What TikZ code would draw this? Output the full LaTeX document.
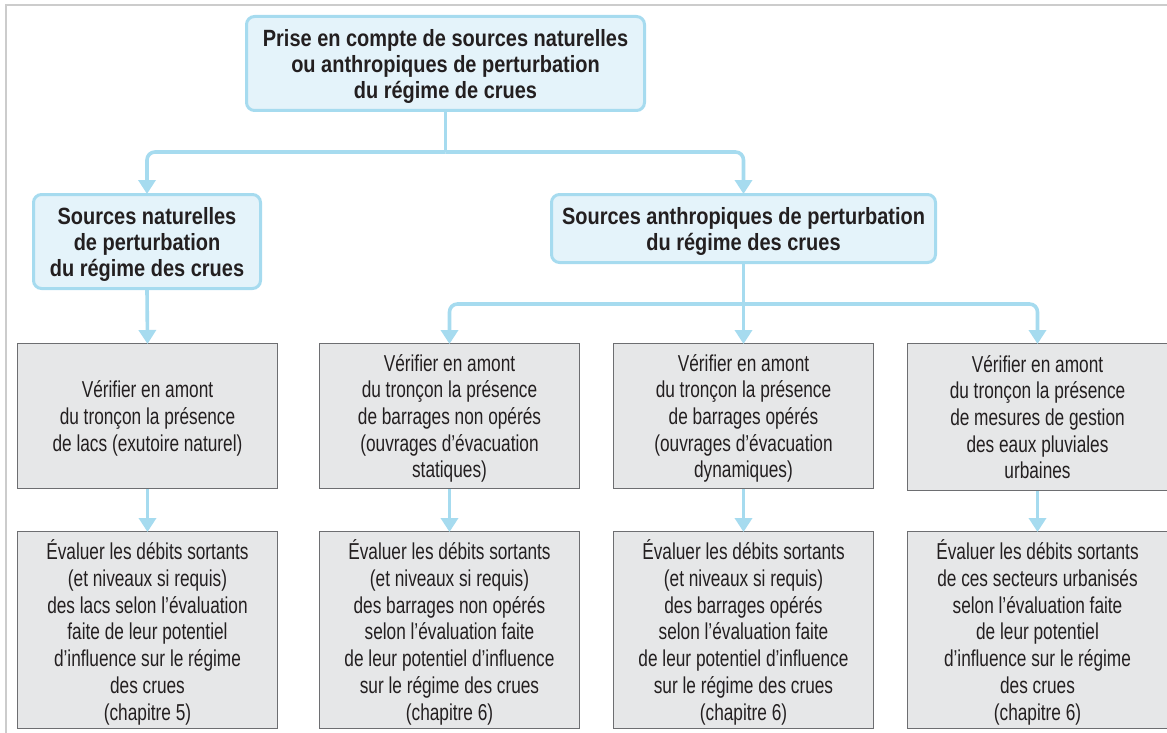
\documentclass[tikz,border=0pt]{standalone}
\usepackage{fontspec}
\setmainfont{Liberation Sans}[FakeStretch=0.75]
\newfontfamily\bfam{Liberation Sans}[FakeStretch=0.85]
\usetikzlibrary{arrows.meta}
\definecolor{conncol}{HTML}{A6DBEF}
\definecolor{bluefill}{HTML}{E4F3FA}
\definecolor{greyfill}{HTML}{E6E7E8}
\definecolor{greyline}{HTML}{6D6E71}
\definecolor{framecol}{HTML}{CCCCCC}
\definecolor{txt}{HTML}{231F20}
\tikzset{
  bluebox/.style={draw=conncol, fill=bluefill, line width=3pt, rounded corners=8pt,
    align=center, inner sep=0pt, text=txt, text depth=0pt,
    font=\bfam\bfseries\fontsize{23.5}{26}\selectfont},
  greybox/.style={draw=greyline, fill=greyfill, line width=1pt,
    minimum width=260pt, align=center, inner sep=0pt, text=txt, text depth=0pt,
    font=\fontsize{23}{26.7}\selectfont},
  conn/.style={draw=conncol, line width=3.6pt, rounded corners=8pt},
  arr/.style={conn, -{Triangle[width=17pt,length=14pt]}, shorten >=-1pt},
}
\begin{document}
\begin{tikzpicture}[x=1pt,y=-1pt]
\useasboundingbox (0,0) rectangle (1167,733);
\draw[framecol, line width=1.5pt] (6,733) -- (6,5) -- (1167,5);

\node[bluebox, minimum width=398pt, minimum height=94pt] (top) at (445.5,63.5)
  {Prise en compte de sources naturelles\\ou anthropiques de perturbation\\du régime de crues};
\node[bluebox, minimum width=227pt, minimum height=94pt] (nat) at (147,241.5)
  {Sources naturelles\\de perturbation\\du régime des crues};
\node[bluebox, minimum width=384pt, minimum height=68pt] (anth) at (743.5,228.5)
  {Sources anthropiques de perturbation\\du régime des crues};

\node[greybox, minimum height=145pt] (a1) at (147.5,416)
  {Vérifier en amont\\du tronçon la présence\\de lacs (exutoire naturel)};
\node[greybox, minimum height=145pt] (b1) at (449.5,416)
  {Vérifier en amont\\du tronçon la présence\\de barrages non opérés\\(ouvrages d’évacuation\\statiques)};
\node[greybox, minimum height=145pt] (c1) at (743.5,416)
  {Vérifier en amont\\du tronçon la présence\\de barrages opérés\\(ouvrages d’évacuation\\dynamiques)};
\node[greybox, minimum height=147pt] (d1) at (1037.5,417)
  {Vérifier en amont\\du tronçon la présence\\de mesures de gestion\\des eaux pluviales\\urbaines};

\node[greybox, minimum height=197pt] (a2) at (147.5,630)
  {Évaluer les débits sortants\\(et niveaux si requis)\\des lacs selon l’évaluation\\faite de leur potentiel\\d’influence sur le régime\\des crues\\(chapitre 5)};
\node[greybox, minimum height=197pt] (b2) at (449.5,630)
  {Évaluer les débits sortants\\(et niveaux si requis)\\des barrages non opérés\\selon l’évaluation faite\\de leur potentiel d’influence\\sur le régime des crues\\(chapitre 6)};
\node[greybox, minimum height=197pt] (c2) at (743.5,630)
  {Évaluer les débits sortants\\(et niveaux si requis)\\des barrages opérés\\selon l’évaluation faite\\de leur potentiel d’influence\\sur le régime des crues\\(chapitre 6)};
\node[greybox, minimum height=197pt] (d2) at (1037.5,630)
  {Évaluer les débits sortants\\de ces secteurs urbanisés\\selon l’évaluation faite\\de leur potentiel\\d’influence sur le régime\\des crues\\(chapitre 6)};

\coordinate (j1) at (445.5,152);
\coordinate (j2) at (743.5,304);

\draw[conn] (top.south) -- (top.south |- j1);
\draw[arr] (top.south |- j1) -| (nat.north);
\draw[arr] (top.south |- j1) -| (anth.north);

\draw[arr] (nat.south) -- (a1.north);

\draw[conn] (anth.south) -- (anth.south |- j2);
\draw[arr] (anth.south |- j2) -| (b1.north);
\draw[arr] (anth.south |- j2) -| (d1.north);
\draw[arr] (anth.south |- j2) -- (c1.north);

\draw[arr] (a1.south) -- (a2.north);
\draw[arr] (b1.south) -- (b2.north);
\draw[arr] (c1.south) -- (c2.north);
\draw[arr] (d1.south) -- (d2.north);
\end{tikzpicture}
\end{document}
